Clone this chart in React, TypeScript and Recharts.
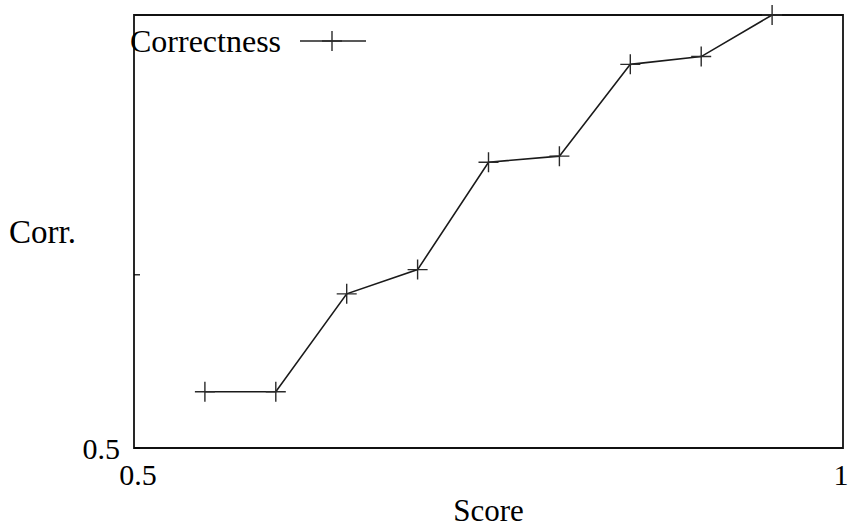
import React from "react";
import {
  LineChart,
  Line,
  XAxis,
  YAxis,
  ReferenceArea,
  Legend,
  Label,
} from "recharts";

const scores = [0.55, 0.6, 0.65, 0.7, 0.75, 0.8, 0.85, 0.9, 0.95];
const correctness = [0.565, 0.565, 0.678, 0.706, 0.83, 0.837, 0.943, 0.952, 1.0];
const xTicks = [0.5, 1];
const xTickLabels = ["0.5", "1"];
const yTicks = [0.5, 0.7];
const yTickLabels = ["0.5", ""];

const data = scores.map((score, i) => ({ score, corr: correctness[i] }));

const FONT = "'Liberation Serif', 'Times New Roman', serif";

const Cross = (props: any) => {
  const { cx, cy, index } = props;
  if (cx == null || cy == null) return <g key={index} />;
  return (
    <path
      key={index}
      d={`M${cx - 10},${cy}h20M${cx},${cy - 10}v20`}
      stroke="#2a2a2a"
      strokeWidth={1.4}
      fill="none"
    />
  );
};

const XTick = ({ x, y, payload }: any) => {
  const i = xTicks.indexOf(payload.value);
  // last label is pulled in a little so it stays inside the picture
  const dx = i === xTicks.length - 1 ? -2 : 4;
  return (
    <text x={x + dx} y={y + 37} textAnchor="middle" fontFamily={FONT} fontSize={30} fill="#000">
      {xTickLabels[i]}
    </text>
  );
};

const LeftTick = ({ x, y, payload }: any) => {
  const i = yTicks.indexOf(payload.value);
  return (
    <g>
      <line x1={x} x2={x + 6} y1={y} y2={y} stroke="#000" strokeWidth={1.2} />
      <text x={x - 14} y={y + 11} textAnchor="end" fontFamily={FONT} fontSize={30} fill="#000">
        {yTickLabels[i]}
      </text>
    </g>
  );
};

const RightTick = ({ x, y }: any) => (
  <line x1={x - 6} x2={x} y1={y} y2={y} stroke="#000" strokeWidth={1.2} />
);

const renderLegend = () => (
  <div style={{ position: "relative", width: 240, height: 40, fontFamily: FONT }}>
    <span
      style={{
        position: "absolute",
        left: 0,
        top: 0,
        fontSize: 32,
        lineHeight: "32px",
        whiteSpace: "nowrap",
        color: "#000",
      }}
    >
      Correctness
    </span>
    <svg width={66} height={22} style={{ position: "absolute", left: 170, top: 5 }}>
      <line x1={0} x2={66} y1={11} y2={11} stroke="#222" strokeWidth={1.3} />
      <path d="M22,11h20M32,1v20" stroke="#2a2a2a" strokeWidth={1.4} fill="none" />
    </svg>
  </div>
);

const App: React.FC = () => {
  return (
    <div style={{ position: "absolute", left: 0, top: 0, background: "#fff" }}>
      <LineChart
        width={849}
        height={528}
        data={data}
        margin={{ top: 15, right: 0, bottom: 0, left: 0 }}
      >
        <XAxis
          type="number"
          dataKey="score"
          domain={[0.5, 1]}
          ticks={xTicks}
          height={80}
          axisLine={false}
          tickLine={false}
          tickSize={0}
          tickMargin={0}
          tick={XTick}
          interval={0}
        >
          <Label
            content={({ viewBox }: any) => (
              <text
                x={viewBox.x + viewBox.width / 2}
                y={viewBox.y + 73}
                textAnchor="middle"
                fontFamily={FONT}
                fontSize={31}
                fill="#000"
              >
                Score
              </text>
            )}
          />
        </XAxis>
        <YAxis
          yAxisId="left"
          type="number"
          domain={[0.5, 1]}
          ticks={yTicks}
          width={134}
          axisLine={false}
          tickLine={false}
          tickSize={0}
          tickMargin={0}
          tick={LeftTick}
          interval={0}
        >
          <Label
            content={({ viewBox }: any) => (
              <text
                x={viewBox.x + 9}
                y={viewBox.y + viewBox.height / 2 + 11}
                textAnchor="start"
                fontFamily={FONT}
                fontSize={33}
                fill="#000"
              >
                Corr.
              </text>
            )}
          />
        </YAxis>
        <YAxis
          yAxisId="right"
          orientation="right"
          type="number"
          domain={[0.5, 1]}
          ticks={yTicks}
          width={6}
          axisLine={false}
          tickLine={false}
          tickSize={0}
          tickMargin={0}
          tick={RightTick}
          interval={0}
        />
        <ReferenceArea
          yAxisId="left"
          x1={0.5}
          x2={1}
          y1={0.5}
          y2={1}
          fill="none"
          stroke="#111"
          strokeWidth={1.8}
          ifOverflow="visible"
        />
        <Legend
          layout="vertical"
          align="center"
          verticalAlign="middle"
          content={renderLegend}
          wrapperStyle={{ left: 130, top: 25, width: 240, height: 40 }}
        />
        <Line
          yAxisId="left"
          type="linear"
          dataKey="corr"
          name="Correctness"
          stroke="#1a1a1a"
          strokeWidth={1.6}
          dot={Cross}
          activeDot={false}
          isAnimationActive={false}
        />
      </LineChart>
    </div>
  );
};

export default App;
